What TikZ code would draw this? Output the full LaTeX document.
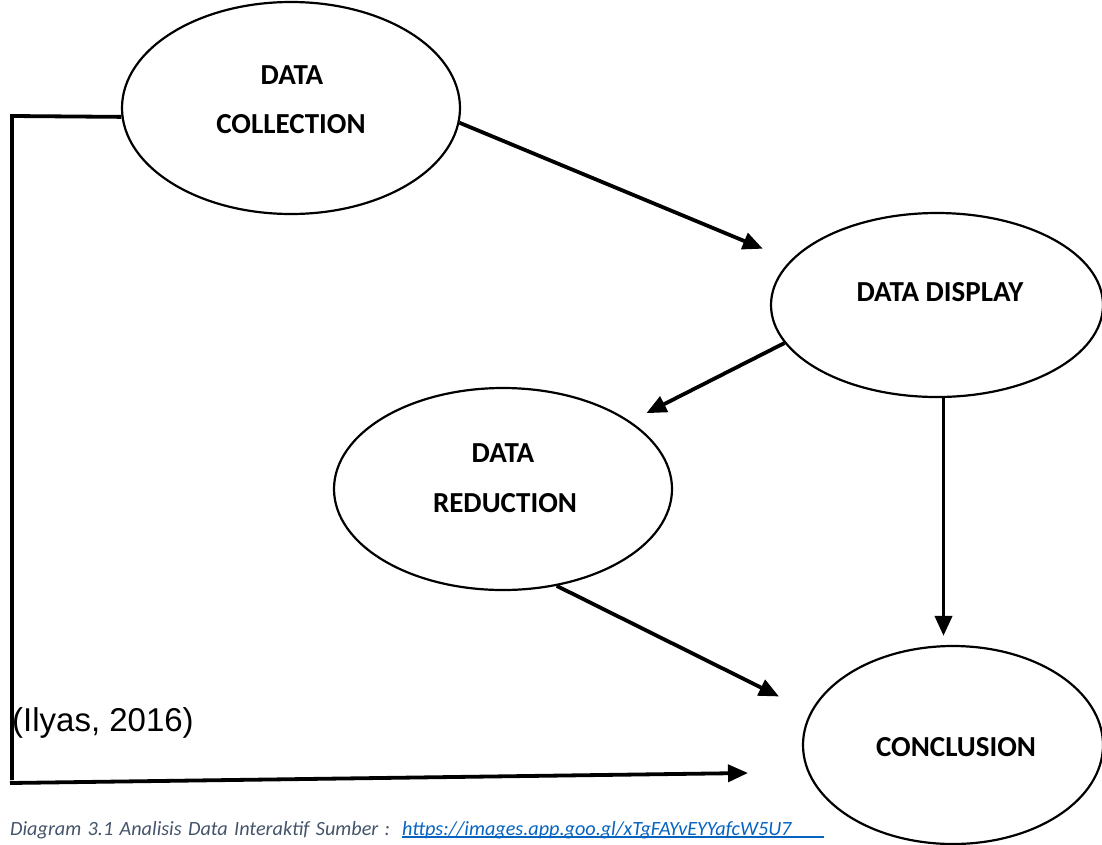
\documentclass[tikz,border=0pt]{standalone}
\usepackage{fontspec}
\setmainfont{Carlito}
\newfontfamily\arialfont{Liberation Sans}
\usetikzlibrary{shapes.geometric,arrows.meta}
\definecolor{capgray}{HTML}{44546A}
\definecolor{linkblue}{HTML}{0563C1}
\tikzset{
  oval/.style={draw=black, line width=2.2pt, ellipse, inner sep=0pt},
  lbl/.style={font=\fontsize{29}{34}\selectfont\bfseries, anchor=base, inner sep=0pt},
  arr/.style={line width=3.8pt, -{Triangle[length=20pt,width=17pt]}},
  bar/.style={line width=3.8pt}
}
\begin{document}
\begin{tikzpicture}[x=1pt,y=-1pt]
\useasboundingbox (0,0) rectangle (1102,844);
% ellipses
\node[oval, minimum width=338pt, minimum height=212pt] (dc) at (291,108) {};
\node[oval, minimum width=332pt, minimum height=184pt] (dd) at (937,305) {};
\node[oval, minimum width=338pt, minimum height=202pt] (dr) at (503,489) {};
\node[oval, minimum width=300pt, minimum height=198pt] (cc) at (953,745) {};
% labels
\node[lbl] (dc1) at (292,84) {DATA};
\node[lbl] (dc2) at (291,133) {COLLECTION};
\node[lbl] (dd1) at (940,301) {DATA DISPLAY};
\node[lbl] (dr1) at (503,462) {DATA};
\node[lbl] (dr2) at (505,512) {REDUCTION};
\node[lbl] (cc1) at (956,756) {CONCLUSION};
% arrows
\draw[arr, shorten >=30pt] (dc.-5) -- (dd.163);
\draw[arr, shorten >=18pt] (dd.194) -- (dr.28);
\draw[arr, shorten >=9pt] (dd.-86) -- (dd.-86 |- cc.north);
\draw[arr, shorten >=35pt] (dr.-61) -- (cc.167);
% bracket
\coordinate (tl) at (12,116);
\coordinate (bl) at (12,780);
\coordinate (bs) at (10,783);
\coordinate (tip) at (748,773);
\draw[bar] (dc.183) -- (tl) -- (bl);
\draw[arr] (bs) -- (tip);
% source note
\node[anchor=base west, inner sep=0pt, font=\arialfont\fontsize{33}{38}\selectfont] (src) at (12,731) {(Ilyas, 2016)};
% caption
\node[anchor=base west, inner sep=0pt, font=\fontsize{20.2}{24}\selectfont\itshape] (cap) at (10,835)
  {\color{capgray}\makebox[380pt][s]{Diagram 3.1 Analisis Data Interaktif Sumber :}\hspace{12pt}\color{linkblue}\rlap{\rule[-2.5pt]{422pt}{1.6pt}}https://images.app.goo.gl/xTgFAYvEYYafcW5U7};
\end{tikzpicture}
\end{document}
